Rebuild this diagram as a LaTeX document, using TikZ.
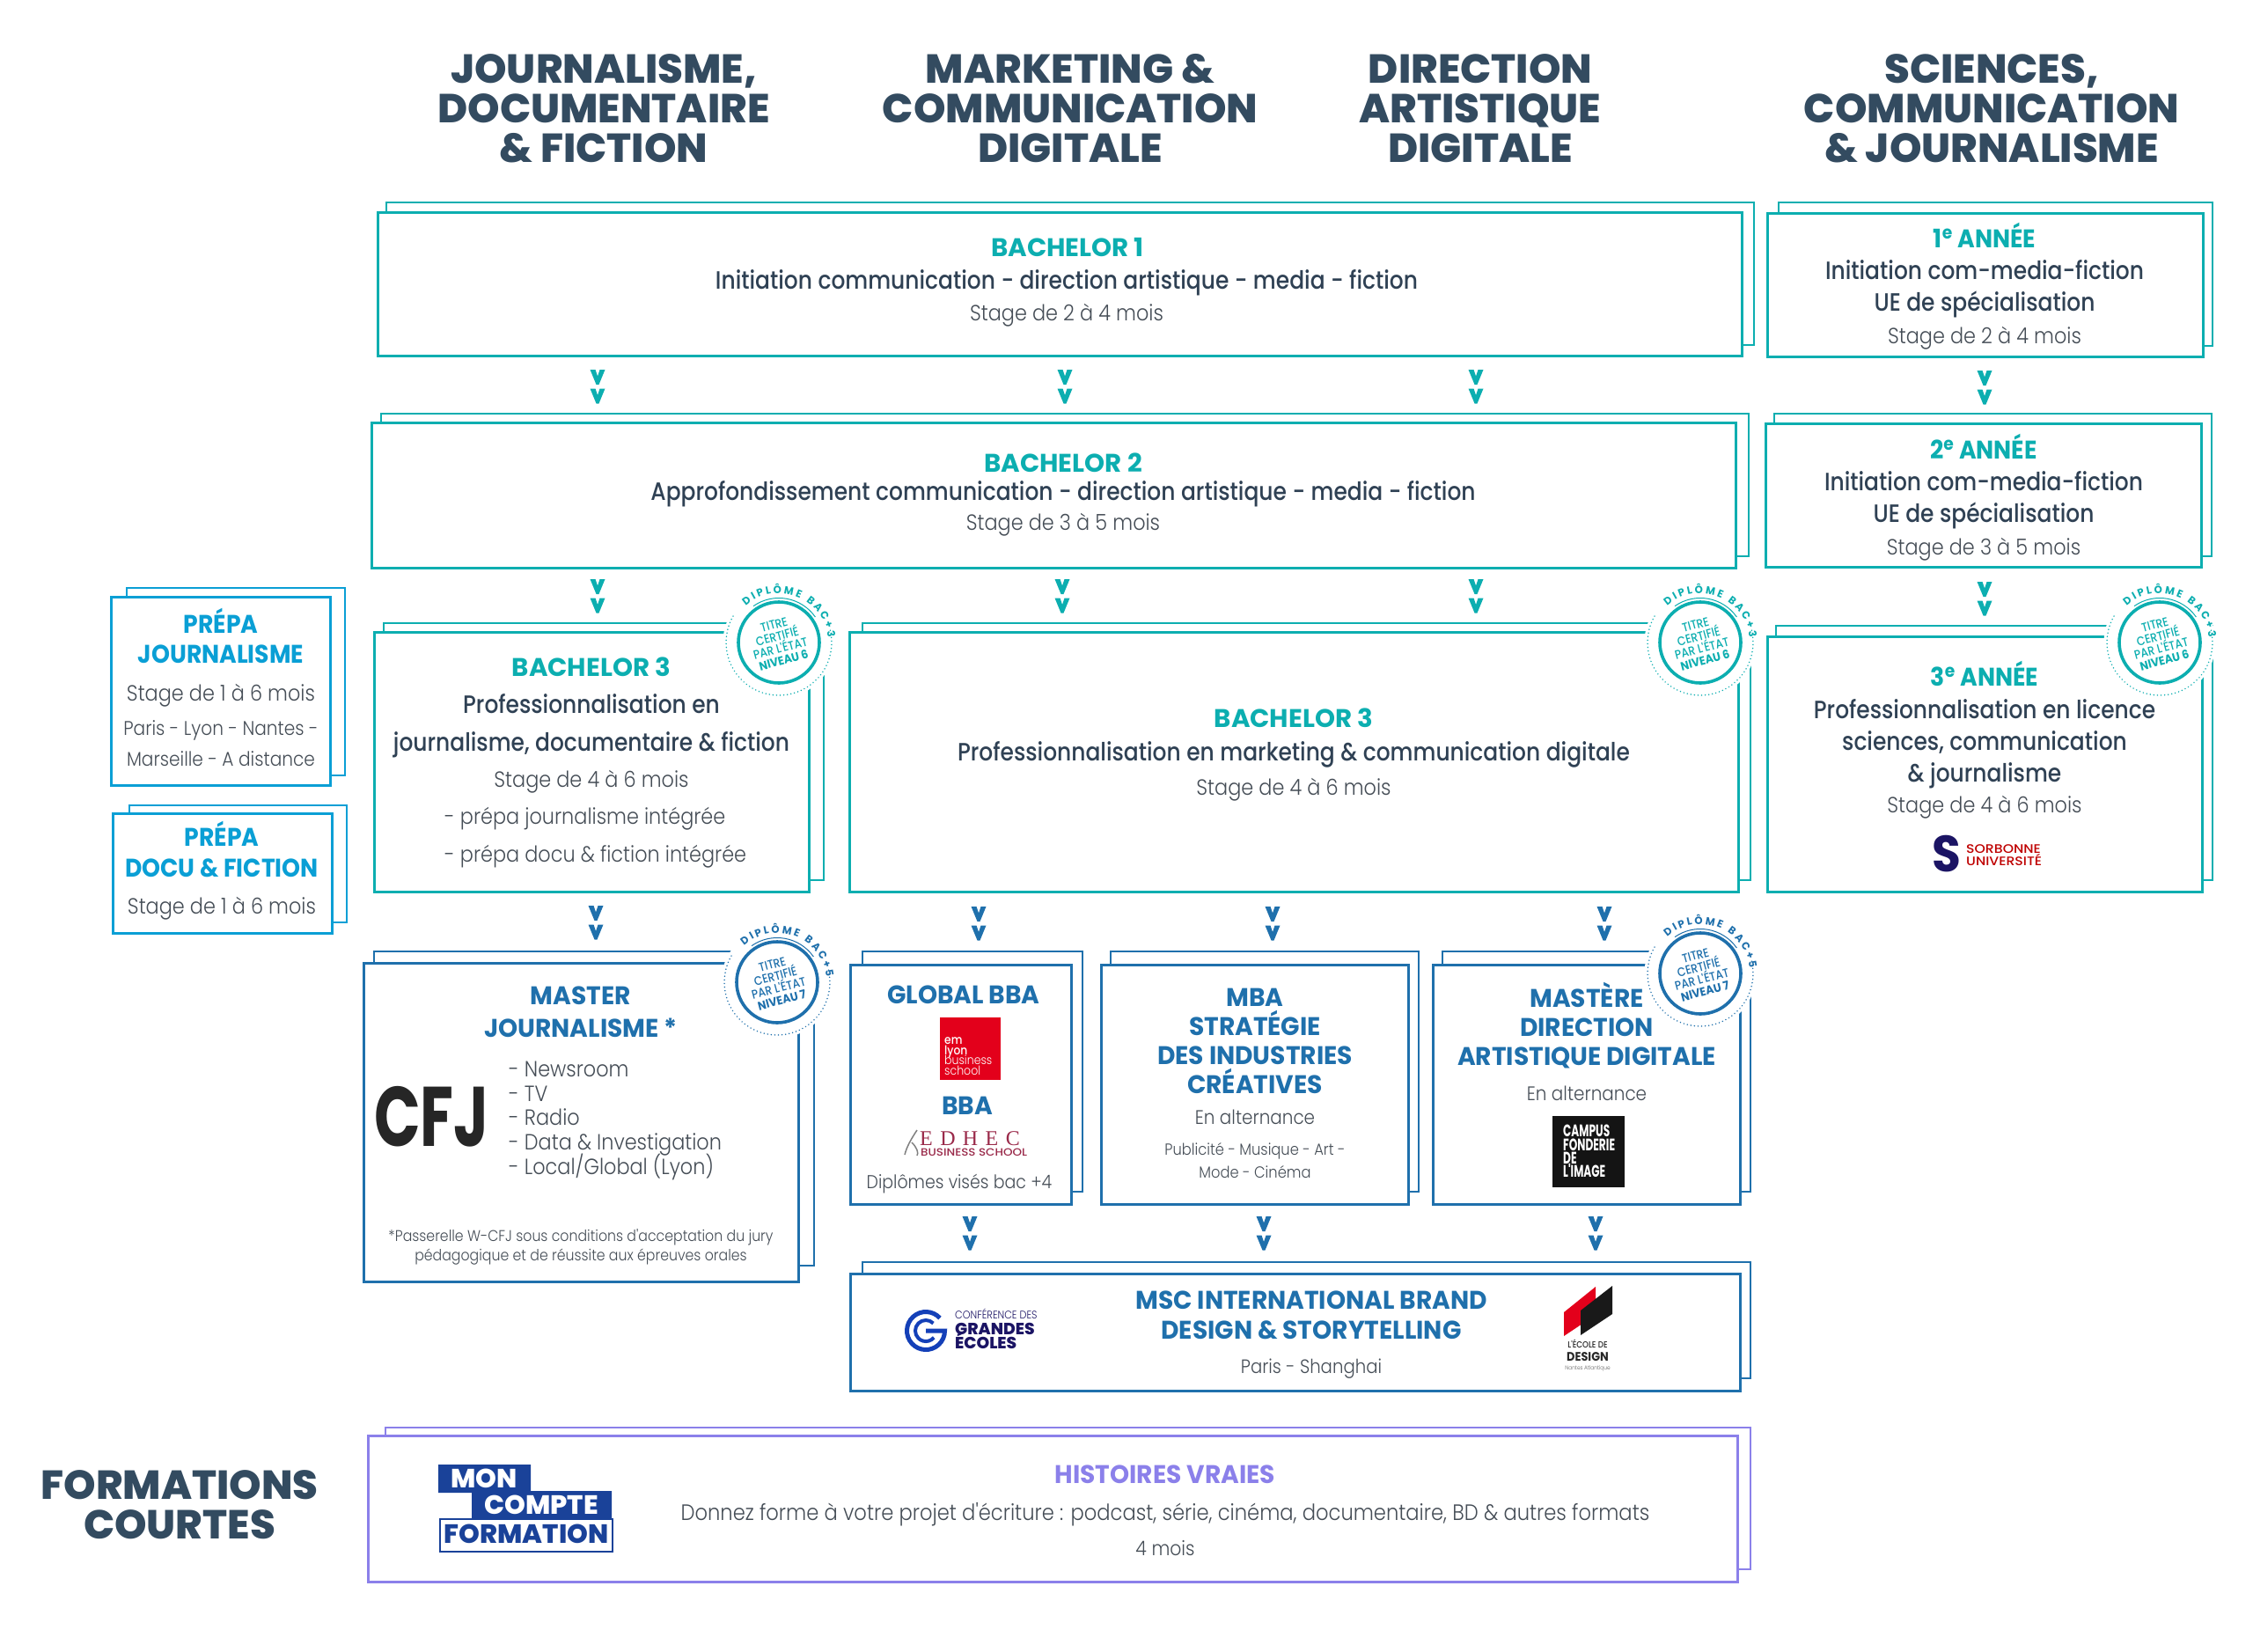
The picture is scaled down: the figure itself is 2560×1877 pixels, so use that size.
\documentclass[tikz,border=0pt]{standalone}
\usepackage{fontspec}
\usetikzlibrary{positioning,decorations.markings,decorations.text}
\setmainfont{Poppins}
\newfontfamily\ttlf{Poppins Bold}[FakeStretch=0.97]
\newfontfamily\ttbf{Poppins Bold}[FakeStretch=1.01]
\newfontfamily\ttcf{Poppins Bold}[FakeStretch=0.92]
\newfontfamily\subf{Poppins Medium}[FakeStretch=0.875]
\newfontfamily\stgf{Poppins Light}[FakeStretch=0.895]
\newfontfamily\hdrf{Poppins ExtraBold}[FakeStretch=1.01]
\newfontfamily\cfjf{Poppins Bold}[FakeStretch=0.72]
\newfontfamily\campf{Poppins Bold}[FakeStretch=0.64]
\newfontfamily\widef{Poppins Medium}[FakeStretch=1.12]
\newfontfamily\serf{Liberation Serif}[LetterSpace=35]
\definecolor{tealc}{HTML}{0CAEB0}
\definecolor{bluec}{HTML}{1F70AC}
\definecolor{cyanc}{HTML}{0A9FD5}
\definecolor{purpc}{HTML}{8B80EA}
\definecolor{darkc}{HTML}{2F4154}
\definecolor{hdrc}{HTML}{334B60}
\definecolor{greyc}{HTML}{454D56}
\definecolor{mcfc}{HTML}{1A4299}
\definecolor{navyc}{HTML}{1B1464}
\definecolor{redc}{HTML}{E3001B}
\definecolor{edhc}{HTML}{9A2A4A}
\definecolor{cgec}{HTML}{1440B8}
\newcommand{\chev}[1]{\fill[#1] (0,-8.5)--(0,-2.5)--(7.5,0)--(0,2.5)--(0,8.5)--(17,1.5)--(17,-1.5)--cycle;}
\newcommand{\fsz}[1]{\fontsize{#1}{#1}\selectfont}
\newcommand{\badge}[6]{%
  \node[circle,fill=white,inner sep=0pt,minimum size=127pt] (#1) at (#2,#3) {};
  \begin{scope}[shift={(#2,#3)},y=1pt]
    \draw[#4,line width=1.6pt,line cap=round,dash pattern=on 0.1pt off 4pt] (150:60) arc (150:375:60);
    \draw[#4,line width=3.6pt] (0,0) circle (46);
    \draw[#4,line width=1pt] (125:50.5) arc (125:35:50.5);
    \path[decorate,decoration={text along path,text align=fit to path,text={|\ttlf\fsz{12}\color{#4}|DIPLÔME BAC+#5}}] (132:56) arc (132:6:56);
    \node[rotate=15,align=center,inner sep=0pt,text=#4,font=\subf\fontsize{14}{14}\selectfont] (#1t) at (0,0) {TITRE\\CERTIFIÉ\\PAR L'ÉTAT\\{\ttcf\fsz{13.5}NIVEAU #6}};
  \end{scope}}
\tikzset{
  backbox/.style={draw=#1,fill=white,line width=2.6pt,inner sep=0pt,anchor=north west},
  frontbox/.style={draw=#1,fill=white,line width=3pt,inner sep=0pt,anchor=north west},
  hdr/.style={anchor=base,inner sep=0pt,text=hdrc,font=\hdrf\fsz{46}},
  ttl/.style={anchor=base,inner sep=0pt,text=#1,font=\ttlf\fsz{29}},
  ttb/.style={anchor=base,inner sep=0pt,text=tealc,font=\ttbf\fsz{29}},
  ttc/.style={anchor=base,inner sep=0pt,text=#1,font=\ttcf\fsz{29}},
  sub/.style={anchor=base,inner sep=0pt,text=darkc,font=\subf\fsz{28.5}},
  stg/.style={anchor=base,inner sep=0pt,text=greyc,font=\stgf\fsz{25}},
  sml/.style={anchor=base,inner sep=0pt,text=greyc,font=\stgf\fsz{22.5}},
  tiny/.style={anchor=base,inner sep=0pt,text=greyc,font=\stgf\fsz{17.6}},
  vv/.style={postaction={decorate,decoration={markings,
    mark=at position 0 with {\chev{#1}},mark=at position 1 with {\chev{#1}}}}}
}
\begin{document}
\begin{tikzpicture}[x=1pt,y=-1pt]
\useasboundingbox (0,0) rectangle (2560,1877);

% stacked boxes
\foreach \nm/\col/\fa/\fb/\fc/\fd/\ba/\bb/\bc/\bd in {
  bacha/tealc/429/241/1979/404/439/230/1993/392,
  bachb/tealc/422/480/1972/645/433/470/1987/632,
  bachc/tealc/425/718/919/1013/436/708/936/1000,
  bachd/tealc/965/718/1975/1013/980/708/1989/1000,
  anna/tealc/2008/242/2503/405/2021/230/2514/393,
  annb/tealc/2006/481/2501/644/2016/470/2513/632,
  annc/tealc/2008/723/2502/1013/2018/711/2514/1000,
  prepa/cyanc/126/678/375/892/144/668/392/881,
  prepb/cyanc/128/924/377/1060/147/915/394/1048,
  mast/bluec/413/1094/907/1456/425/1081/925/1438,
  gbba/bluec/966/1096/1217/1368/980/1081/1230/1354,
  mba/bluec/1251/1096/1600/1368/1262/1081/1612/1354,
  dirart/bluec/1628/1096/1977/1368/1639/1081/1989/1354,
  msc/bluec/966/1447/1977/1580/980/1434/1989/1566,
  hist/purpc/418/1631/1974/1797/438/1622/1989/1783}
{
  \node[backbox=\col,minimum width={(\bc-\ba)*1pt},minimum height={(\bd-\bb)*1pt}] (\nm b) at (\ba-1.5,\bb-1.5) {};
  \node[frontbox=\col,minimum width={(\fc-\fa)*1pt},minimum height={(\fd-\fb)*1pt}] (\nm) at (\fa-1.5,\fb-1.5) {};
}

% chevrons between the levels
\foreach \nm/\col/\x/\y in {
  a/tealc/679/420, b/tealc/1210/420, c/tealc/1677/420, d/tealc/2255/421,
  e/tealc/679/658, f/tealc/1207/658, g/tealc/1677/658, h/tealc/2255/661,
  i/bluec/677/1029, j/bluec/1112/1030, k/bluec/1446/1030, l/bluec/1823/1030,
  m/bluec/1102/1382, n/bluec/1436/1382, o/bluec/1813/1382}
{
  \coordinate (vv\nm a) at (\x,\y);
  \coordinate (vv\nm b) at (\x,\y+21.5);
  \path[vv=\col] (vv\nm a) -- (vv\nm b);
}

% column titles
\node[hdr] (ha) at (686,94) {JOURNALISME,};
\node[hdr] (hb) at (686,139) {DOCUMENTAIRE};
\node[hdr] (hc) at (686,184) {\& FICTION};
\node[hdr] (hd) at (1216,94) {MARKETING \&};
\node[hdr] (he) at (1216,139) {COMMUNICATION};
\node[hdr] (hf) at (1216,184) {DIGITALE};
\node[hdr] (hg) at (1682,94) {DIRECTION};
\node[hdr] (hh) at (1682,139) {ARTISTIQUE};
\node[hdr] (hi) at (1682,184) {DIGITALE};
\node[hdr] (hj) at (2263,94) {SCIENCES,};
\node[hdr] (hk) at (2263,139) {COMMUNICATION};
\node[hdr] (hl) at (2263,184) {\& JOURNALISME};
\node[hdr] (hm) at (204,1703) {FORMATIONS};
\node[hdr] (hn) at (204,1748) {COURTES};

% bachelors
\node[ttb] (bachat) at (1213,291) {BACHELOR 1};
\node[sub] (bachas) at (1212,328) {Initiation communication - direction artistique - media - fiction};
\node[stg] (bachag) at (1212,364) {Stage de 2 à 4 mois};
\node[ttb] (bachbt) at (1208,536) {BACHELOR 2};
\node[sub] (bachbs) at (1208,568) {Approfondissement communication - direction artistique - media - fiction};
\node[stg] (bachbg) at (1208,602) {Stage de 3 à 5 mois};
\node[ttb] (bachct) at (672,768) {BACHELOR 3};
\node[sub] (bachca) at (672,810) {Professionnalisation en};
\node[sub] (bachcb) at (672,853) {journalisme, documentaire \& fiction};
\node[stg] (bachcc) at (672,894) {Stage de 4 à 6 mois};
\node[stg,anchor=base west] (bachcd) at (505,936) {- prépa journalisme intégrée};
\node[stg,anchor=base west] (bachce) at (505,979) {- prépa docu \& fiction intégrée};
\node[ttb] (bachdt) at (1470,826) {BACHELOR 3};
\node[sub] (bachds) at (1470,864) {Professionnalisation en marketing \& communication digitale};
\node[stg] (bachdg) at (1470,903) {Stage de 4 à 6 mois};

% right column
\node[ttc=tealc] (annat) at (2255,281) {1\textsuperscript{e} ANNÉE};
\node[sub] (annaa) at (2255,317) {Initiation com-media-fiction};
\node[sub] (annab) at (2255,353) {UE de spécialisation};
\node[stg] (annag) at (2255,390) {Stage de 2 à 4 mois};
\node[ttc=tealc] (annbt) at (2254,521) {2\textsuperscript{e} ANNÉE};
\node[sub] (annba) at (2254,557) {Initiation com-media-fiction};
\node[sub] (annbb) at (2254,593) {UE de spécialisation};
\node[stg] (annbg) at (2254,630) {Stage de 3 à 5 mois};
\node[ttc=tealc] (annct) at (2255,779) {3\textsuperscript{e} ANNÉE};
\node[sub] (annca) at (2255,816) {Professionnalisation en licence};
\node[sub] (anncb) at (2255,852) {sciences, communication};
\node[sub] (anncc) at (2255,888) {\& journalisme};
\node[stg] (anncg) at (2255,923) {Stage de 4 à 6 mois};
\node[anchor=base,inner sep=0pt,text=navyc,font=\ttcf\fsz{58}] (sorbs) at (2212,990) {S};
\node[anchor=base west,inner sep=0pt,text=red!75!black,font=\widef\fsz{14}] (sorba) at (2234,969) {SORBONNE};
\node[anchor=base west,inner sep=0pt,text=red!75!black,font=\widef\fsz{14}] (sorbb) at (2234,983) {UNIVERSITÉ};

% prepas
\node[ttc=cyanc] (prepat) at (251,719) {PRÉPA};
\node[ttc=cyanc] (prepau) at (251,753) {JOURNALISME};
\node[stg] (prepag) at (251,796) {Stage de 1 à 6 mois};
\node[sml] (prepav) at (251,835) {Paris - Lyon - Nantes -};
\node[sml] (prepaw) at (251,870) {Marseille - A distance};
\node[ttc=cyanc] (prepbt) at (252,961) {PRÉPA};
\node[ttc=cyanc] (prepbu) at (252,996) {DOCU \& FICTION};
\node[stg] (prepbg) at (252,1038) {Stage de 1 à 6 mois};

% master
\node[ttl=bluec] (mastt) at (660,1141) {MASTER};
\node[ttl=bluec] (mastu) at (660,1178) {JOURNALISME *};
\node[anchor=base west,inner sep=0pt,text=black!85!white,font=\cfjf\fsz{96}] (cfj) at (425,1302) {CFJ};
\foreach \nm/\y/\tx in {a/1223/Newsroom,b/1251/TV,c/1278/Radio,d/1306/Data \& Investigation,e/1334/Local\slash Global (Lyon)}
  \node[stg,anchor=base west] (mastl\nm) at (578,\y) {- \tx};
\node[tiny] (mastf) at (660,1410) {*Passerelle W-CFJ sous conditions d'acceptation du jury};
\node[tiny] (mastg) at (660,1432) {pédagogique et de réussite aux épreuves orales};

% global bba
\node[ttl=bluec] (gbbat) at (1095,1140) {GLOBAL BBA};
\node[fill=redc,inner sep=0pt,minimum width=69pt,minimum height=71pt,anchor=north west] (emlyon) at (1068,1156) {};
\foreach \nm/\y/\tx/\fnt in {a/1186/em/\subf,b/1198/lyon/\subf,c/1209/business/\stgf,d/1221/school/\stgf}
  \node[anchor=base west,inner sep=0pt,text=white,font=\fnt\fsz{14}] (eml\nm) at (1073,\y) {\tx};
\node[ttl=bluec] (gbbau) at (1099,1266) {BBA};
\node[anchor=base west,inner sep=0pt,text=edhc,font=\serf\fsz{24}] (edheca) at (1045,1301) {EDHEC};
\node[anchor=base west,inner sep=0pt,text=edhc,font=\widef\fsz{12}] (edhecb) at (1046,1313) {BUSINESS SCHOOL};
\draw[gray,line width=1.5pt] (1042,1284) .. controls (1034,1296) and (1030,1304) .. (1028,1312) (1036,1298) .. controls (1042,1304) and (1044,1310) .. (1042,1313);
\node[stg,font=\stgf\fsz{21.2}] (gbbag) at (1090,1350) {Diplômes visés bac +4};

% mba
\node[ttl=bluec] (mbaa) at (1426,1143) {MBA};
\node[ttl=bluec] (mbab) at (1426,1176) {STRATÉGIE};
\node[ttl=bluec] (mbac) at (1426,1209) {DES INDUSTRIES};
\node[ttl=bluec] (mbad) at (1426,1242) {CRÉATIVES};
\node[stg,font=\stgf\fsz{22.3}] (mbae) at (1426,1277) {En alternance};
\node[tiny,font=\stgf\fsz{18.2}] (mbaf) at (1426,1312) {Publicité - Musique - Art -};
\node[tiny,font=\stgf\fsz{18.2}] (mbag) at (1426,1338) {Mode - Cinéma};

% mastere
\node[ttl=bluec] (dirarta) at (1803,1144) {MASTÈRE};
\node[ttl=bluec] (dirartb) at (1803,1177) {DIRECTION};
\node[ttl=bluec] (dirartc) at (1803,1210) {ARTISTIQUE DIGITALE};
\node[stg,font=\stgf\fsz{22.3}] (dirartd) at (1803,1250) {En alternance};
\node[fill=black!92!white,inner sep=0pt,minimum width=82pt,minimum height=81pt,anchor=north west] (campus) at (1764,1268) {};
\foreach \nm/\y/\tx in {a/1291/CAMPUS,b/1307/FONDERIE,c/1322/DE,d/1337/L'IMAGE}
  \node[anchor=base west,inner sep=0pt,text=white,font=\campf\fsz{19}] (camp\nm) at (1776,\y) {\tx};

% msc
\node[ttl=bluec] (msca) at (1490,1487) {MSC INTERNATIONAL BRAND};
\node[ttl=bluec] (mscb) at (1490,1521) {DESIGN \& STORYTELLING};
\node[stg,font=\stgf\fsz{22}] (mscc) at (1490,1560) {Paris - Shanghai};
\begin{scope}[shift={(1052,1512)},y=1pt]
  \draw[cgec,line width=5pt] (42:21.5) arc (42:360:21.5) -- (0,0);
  \draw[cgec,line width=4pt] (45:12) arc (45:320:12);
\end{scope}
\node[anchor=base west,inner sep=0pt,text=navyc,font=\stgf\fsz{12.5}] (cgea) at (1085,1498) {CONFÉRENCE DES};
\node[anchor=base west,inner sep=0pt,text=navyc,font=\hdrf\fsz{18.5}] (cgeb) at (1085,1516) {GRANDES};
\node[anchor=base west,inner sep=0pt,text=navyc,font=\hdrf\fsz{18.5}] (cgec) at (1085,1532) {ÉCOLES};
\fill[redc] (1777,1491) -- (1813,1462) -- (1813,1494) -- (1777,1518) -- cycle;
\fill[black!90!white] (1796,1489) -- (1832,1461) -- (1832,1493) -- (1796,1517) -- cycle;
\node[anchor=base,inner sep=0pt,text=black!85!white,font=\subf\fsz{10}] (ecoa) at (1804,1531) {L'ÉCOLE DE};
\node[anchor=base,inner sep=0pt,text=black!85!white,font=\ttcf\fsz{14}] (ecob) at (1804,1546) {DESIGN};
\node[anchor=base,inner sep=0pt,text=black!60!white,font=\stgf\fsz{6.5}] (ecoc) at (1804,1556) {Nantes Atlantique};

% histoires vraies
\fill[mcfc] (498,1664) rectangle (603,1696) (536,1694) rectangle (695,1726);
\node[draw=mcfc,line width=2pt,inner sep=0pt,minimum width=196pt,minimum height=37pt,anchor=north west] (mcfbox) at (499,1725) {};
\node[anchor=base,inner sep=0pt,text=white,font=\hdrf\fsz{30}] (mcfa) at (550,1690) {MON};
\node[anchor=base,inner sep=0pt,text=white,font=\hdrf\fsz{30}] (mcfb) at (615,1720) {COMPTE};
\node[anchor=base,inner sep=0pt,text=mcfc,font=\hdrf\fsz{30}] (mcfd) at (598,1753) {FORMATION};
\node[ttl=purpc] (hista) at (1324,1685) {HISTOIRES VRAIES};
\node[stg,font=\stgf\fsz{25.3}] (histb) at (1324,1727) {Donnez forme à votre projet d'écriture : podcast, série, cinéma, documentaire, BD \& autres formats};
\node[stg,font=\stgf\fsz{22.8}] (histc) at (1324,1767) {4 mois};

% badges
\badge{bdga}{885}{730}{tealc}{3}{6}
\badge{bdgb}{1932}{730}{tealc}{3}{6}
\badge{bdgc}{2454}{730}{tealc}{3}{6}
\badge{bdgd}{883}{1116}{bluec}{5}{7}
\badge{bdge}{1932}{1106}{bluec}{5}{7}
\end{tikzpicture}
\end{document}
